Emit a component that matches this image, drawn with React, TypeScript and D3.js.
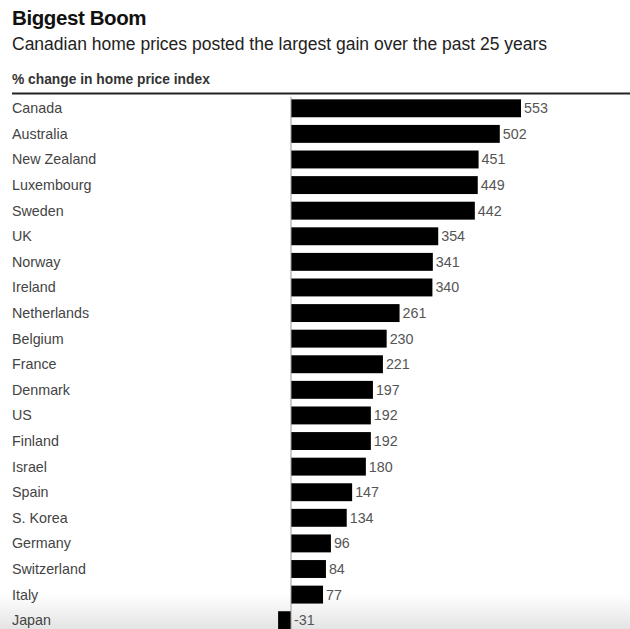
import React from "react";
import * as d3 from "d3";

const countries = ["Canada","Australia","New Zealand","Luxembourg","Sweden","UK","Norway","Ireland","Netherlands","Belgium","France","Denmark","US","Finland","Israel","Spain","S. Korea","Germany","Switzerland","Italy","Japan"];
const values = [553,502,451,449,442,354,341,340,261,230,221,197,192,192,180,147,134,96,84,77,-31];

const W = 630, H = 629;
const FONT = "'Liberation Sans', Arial, Helvetica, sans-serif";

export default function App() {
  const x = d3.scaleLinear().domain([0, 553]).range([291, 521]);
  const y = d3.scaleBand().domain(countries).range([95.5, 633]).paddingInner(0.3).paddingOuter(0.15);
  return (
    <svg width={W} height={H} style={{ position: "absolute", left: 0, top: 0, background: "#fff" }} fontFamily={FONT}>
      <defs>
        <linearGradient id="fade" x1="0" y1="0" x2="0" y2="1">
          <stop offset="0" stopColor="#ffffff" stopOpacity="1" />
          <stop offset="1" stopColor="#e4e4e4" stopOpacity="1" />
        </linearGradient>
      </defs>
      <rect x={0} y={594} width={W} height={H - 594} fill="url(#fade)" />
      <text x={12} y={25} fontSize={20.5} fontWeight="bold" fill="#111" letterSpacing={-0.4}>Biggest Boom</text>
      <text x={12} y={50} fontSize={17.5} fill="#222">Canadian home prices posted the largest gain over the past 25 years</text>
      <text x={12} y={84} fontSize={13.8} fontWeight="bold" fill="#333">% change in home price index</text>
      <line x1={12} x2={630} y1={93.5} y2={93.5} stroke="#222" strokeWidth={2} />
      {countries.map((c, i) => {
        const v = values[i];
        const y0 = y(c)!;
        const bw = y.bandwidth();
        const x0 = Math.min(x(0), x(v));
        const w = Math.abs(x(v) - x(0));
        return (
          <g key={c}>
            <text x={12} y={y0 + bw / 2 + 5} fontSize={14.3} fill="#444">{c}</text>
            <rect x={x0} y={y0} width={w} height={bw} fill="#000" />
            <text x={Math.max(x(v), x(0)) + 3} y={y0 + bw / 2 + 5} fontSize={14.3} fill="#555">{v}</text>
          </g>
        );
      })}
      <line x1={x(0)} x2={x(0)} y1={97} y2={H} stroke="#999" strokeWidth={1} />
    </svg>
  );
}
